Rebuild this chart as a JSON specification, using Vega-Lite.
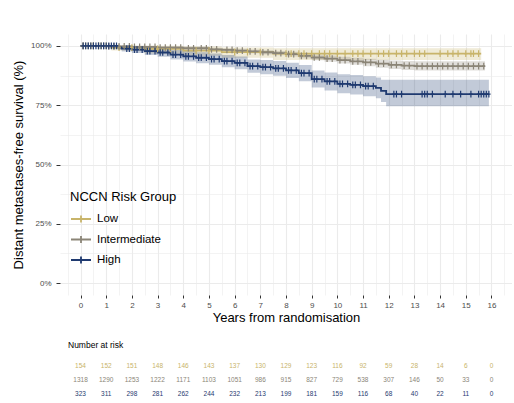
{
  "$schema": "https://vega.github.io/schema/vega-lite/v6.json",
  "background": "white",
  "padding": {"left": 12, "top": 34, "right": 0, "bottom": 0},
  "config": {
    "font": "Liberation Sans",
    "view": {"stroke": null},
    "axis": {"labelFont": "Liberation Sans", "titleFont": "Liberation Sans"}
  },
  "datasets": {
    "curves": [
      {"group": "Low", "time": 0, "surv": 1, "lower": 1, "upper": 1},
      {"group": "Low", "time": 1.2, "surv": 0.993, "lower": 0.98, "upper": 1},
      {"group": "Low", "time": 2.5, "surv": 0.987, "lower": 0.968, "upper": 1},
      {"group": "Low", "time": 4.0, "surv": 0.98, "lower": 0.958, "upper": 0.997},
      {"group": "Low", "time": 5.5, "surv": 0.974, "lower": 0.95, "upper": 0.993},
      {"group": "Low", "time": 7.5, "surv": 0.967, "lower": 0.94, "upper": 0.99},
      {"group": "Low", "time": 15.6, "surv": 0.967, "lower": 0.94, "upper": 0.99},
      {"group": "Intermediate", "time": 0, "surv": 1, "lower": 1, "upper": 1},
      {"group": "Intermediate", "time": 1, "surv": 0.998, "lower": 0.995, "upper": 1},
      {"group": "Intermediate", "time": 2, "surv": 0.996, "lower": 0.992, "upper": 1},
      {"group": "Intermediate", "time": 3, "surv": 0.993, "lower": 0.988, "upper": 0.998},
      {"group": "Intermediate", "time": 4, "surv": 0.99, "lower": 0.984, "upper": 0.996},
      {"group": "Intermediate", "time": 5, "surv": 0.985, "lower": 0.978, "upper": 0.992},
      {"group": "Intermediate", "time": 5.5, "surv": 0.983, "lower": 0.976, "upper": 0.99},
      {"group": "Intermediate", "time": 6, "surv": 0.98, "lower": 0.972, "upper": 0.988},
      {"group": "Intermediate", "time": 6.5, "surv": 0.977, "lower": 0.969, "upper": 0.985},
      {"group": "Intermediate", "time": 7, "surv": 0.973, "lower": 0.964, "upper": 0.982},
      {"group": "Intermediate", "time": 7.5, "surv": 0.969, "lower": 0.96, "upper": 0.978},
      {"group": "Intermediate", "time": 8, "surv": 0.965, "lower": 0.955, "upper": 0.975},
      {"group": "Intermediate", "time": 8.5, "surv": 0.958, "lower": 0.947, "upper": 0.969},
      {"group": "Intermediate", "time": 9, "surv": 0.951, "lower": 0.939, "upper": 0.963},
      {"group": "Intermediate", "time": 9.5, "surv": 0.946, "lower": 0.933, "upper": 0.959},
      {"group": "Intermediate", "time": 10, "surv": 0.94, "lower": 0.926, "upper": 0.954},
      {"group": "Intermediate", "time": 10.5, "surv": 0.935, "lower": 0.92, "upper": 0.95},
      {"group": "Intermediate", "time": 11, "surv": 0.93, "lower": 0.914, "upper": 0.946},
      {"group": "Intermediate", "time": 11.5, "surv": 0.925, "lower": 0.908, "upper": 0.942},
      {"group": "Intermediate", "time": 12, "surv": 0.92, "lower": 0.902, "upper": 0.938},
      {"group": "Intermediate", "time": 12.5, "surv": 0.917, "lower": 0.898, "upper": 0.936},
      {"group": "Intermediate", "time": 13, "surv": 0.915, "lower": 0.896, "upper": 0.935},
      {"group": "Intermediate", "time": 15.75, "surv": 0.915, "lower": 0.896, "upper": 0.935},
      {"group": "High", "time": 0, "surv": 1, "lower": 1, "upper": 1},
      {"group": "High", "time": 1.45, "surv": 0.994, "lower": 0.985, "upper": 1},
      {"group": "High", "time": 1.6, "surv": 0.988, "lower": 0.976, "upper": 1},
      {"group": "High", "time": 2, "surv": 0.984, "lower": 0.97, "upper": 0.998},
      {"group": "High", "time": 2.5, "surv": 0.978, "lower": 0.962, "upper": 0.994},
      {"group": "High", "time": 3, "surv": 0.972, "lower": 0.954, "upper": 0.99},
      {"group": "High", "time": 3.5, "surv": 0.963, "lower": 0.943, "upper": 0.983},
      {"group": "High", "time": 4, "surv": 0.956, "lower": 0.934, "upper": 0.978},
      {"group": "High", "time": 4.5, "surv": 0.95, "lower": 0.927, "upper": 0.973},
      {"group": "High", "time": 5, "surv": 0.944, "lower": 0.92, "upper": 0.968},
      {"group": "High", "time": 5.5, "surv": 0.936, "lower": 0.91, "upper": 0.962},
      {"group": "High", "time": 6, "surv": 0.928, "lower": 0.901, "upper": 0.955},
      {"group": "High", "time": 6.5, "surv": 0.915, "lower": 0.887, "upper": 0.943},
      {"group": "High", "time": 7, "surv": 0.91, "lower": 0.88, "upper": 0.94},
      {"group": "High", "time": 7.5, "surv": 0.905, "lower": 0.874, "upper": 0.936},
      {"group": "High", "time": 8, "surv": 0.897, "lower": 0.865, "upper": 0.929},
      {"group": "High", "time": 8.5, "surv": 0.885, "lower": 0.851, "upper": 0.919},
      {"group": "High", "time": 9, "surv": 0.86, "lower": 0.824, "upper": 0.896},
      {"group": "High", "time": 9.5, "surv": 0.85, "lower": 0.812, "upper": 0.888},
      {"group": "High", "time": 10, "surv": 0.84, "lower": 0.8, "upper": 0.88},
      {"group": "High", "time": 10.5, "surv": 0.836, "lower": 0.795, "upper": 0.877},
      {"group": "High", "time": 11, "surv": 0.83, "lower": 0.788, "upper": 0.872},
      {"group": "High", "time": 11.5, "surv": 0.823, "lower": 0.779, "upper": 0.867},
      {"group": "High", "time": 11.7, "surv": 0.81, "lower": 0.763, "upper": 0.857},
      {"group": "High", "time": 11.9, "surv": 0.797, "lower": 0.745, "upper": 0.857},
      {"group": "High", "time": 15.9, "surv": 0.797, "lower": 0.745, "upper": 0.857}
    ],
    "censor": [
      {"group": "Low", "time": 0.1, "surv": 1}, {"group": "Low", "time": 0.2, "surv": 1}, {"group": "Low", "time": 0.4, "surv": 1},
      {"group": "Low", "time": 0.5, "surv": 1}, {"group": "Low", "time": 0.7, "surv": 1}, {"group": "Low", "time": 0.8, "surv": 1},
      {"group": "Low", "time": 1.0, "surv": 1},
      {"group": "Low", "time": 1.5, "surv": 0.993}, {"group": "Low", "time": 2.0, "surv": 0.993},
      {"group": "Low", "time": 3.0, "surv": 0.987}, {"group": "Low", "time": 3.5, "surv": 0.987},
      {"group": "Low", "time": 4.5, "surv": 0.98}, {"group": "Low", "time": 5.0, "surv": 0.98},
      {"group": "Low", "time": 6.0, "surv": 0.974}, {"group": "Low", "time": 6.5, "surv": 0.974}, {"group": "Low", "time": 7.0, "surv": 0.974},
      {"group": "Low", "time": 8.0, "surv": 0.967}, {"group": "Low", "time": 8.2, "surv": 0.967}, {"group": "Low", "time": 8.5, "surv": 0.967},
      {"group": "Low", "time": 8.7, "surv": 0.967}, {"group": "Low", "time": 9.0, "surv": 0.967},
      {"group": "Low", "time": 9.3, "surv": 0.967}, {"group": "Low", "time": 9.5, "surv": 0.967}, {"group": "Low", "time": 9.7, "surv": 0.967},
      {"group": "Low", "time": 10.0, "surv": 0.967},
      {"group": "Low", "time": 10.3, "surv": 0.967}, {"group": "Low", "time": 10.6, "surv": 0.967}, {"group": "Low", "time": 10.8, "surv": 0.967},
      {"group": "Low", "time": 11.0, "surv": 0.967},
      {"group": "Low", "time": 11.3, "surv": 0.967}, {"group": "Low", "time": 11.6, "surv": 0.967}, {"group": "Low", "time": 11.8, "surv": 0.967},
      {"group": "Low", "time": 12.0, "surv": 0.967},
      {"group": "Low", "time": 12.3, "surv": 0.967}, {"group": "Low", "time": 12.5, "surv": 0.967}, {"group": "Low", "time": 12.7, "surv": 0.967},
      {"group": "Low", "time": 13.0, "surv": 0.967}, {"group": "Low", "time": 13.2, "surv": 0.967},
      {"group": "Low", "time": 13.4, "surv": 0.967}, {"group": "Low", "time": 14.0, "surv": 0.967}, {"group": "Low", "time": 14.3, "surv": 0.967},
      {"group": "Low", "time": 14.5, "surv": 0.967},
      {"group": "Low", "time": 14.7, "surv": 0.967}, {"group": "Low", "time": 15.0, "surv": 0.967}, {"group": "Low", "time": 15.2, "surv": 0.967},
      {"group": "Low", "time": 15.3, "surv": 0.967}, {"group": "Low", "time": 15.5, "surv": 0.967},
      {"group": "Intermediate", "time": 0.1, "surv": 1}, {"group": "Intermediate", "time": 0.3, "surv": 1}, {"group": "Intermediate", "time": 0.5, "surv": 1},
      {"group": "Intermediate", "time": 0.7, "surv": 1}, {"group": "Intermediate", "time": 0.9, "surv": 1},
      {"group": "Intermediate", "time": 1.1, "surv": 0.998}, {"group": "Intermediate", "time": 1.3, "surv": 0.998}, {"group": "Intermediate", "time": 1.5, "surv": 0.998},
      {"group": "Intermediate", "time": 1.7, "surv": 0.998}, {"group": "Intermediate", "time": 1.9, "surv": 0.998},
      {"group": "Intermediate", "time": 2.1, "surv": 0.996}, {"group": "Intermediate", "time": 2.3, "surv": 0.996}, {"group": "Intermediate", "time": 2.5, "surv": 0.996},
      {"group": "Intermediate", "time": 2.7, "surv": 0.996}, {"group": "Intermediate", "time": 2.9, "surv": 0.996},
      {"group": "Intermediate", "time": 3.1, "surv": 0.993}, {"group": "Intermediate", "time": 3.3, "surv": 0.993}, {"group": "Intermediate", "time": 3.5, "surv": 0.993},
      {"group": "Intermediate", "time": 3.7, "surv": 0.993}, {"group": "Intermediate", "time": 3.9, "surv": 0.993},
      {"group": "Intermediate", "time": 4.2, "surv": 0.99}, {"group": "Intermediate", "time": 4.4, "surv": 0.99}, {"group": "Intermediate", "time": 4.7, "surv": 0.99},
      {"group": "Intermediate", "time": 4.9, "surv": 0.99},
      {"group": "Intermediate", "time": 5.1, "surv": 0.985}, {"group": "Intermediate", "time": 5.3, "surv": 0.985},
      {"group": "Intermediate", "time": 5.7, "surv": 0.983}, {"group": "Intermediate", "time": 5.9, "surv": 0.983},
      {"group": "Intermediate", "time": 6.1, "surv": 0.98}, {"group": "Intermediate", "time": 6.3, "surv": 0.98},
      {"group": "Intermediate", "time": 6.6, "surv": 0.977}, {"group": "Intermediate", "time": 6.8, "surv": 0.977},
      {"group": "Intermediate", "time": 7.1, "surv": 0.973}, {"group": "Intermediate", "time": 7.3, "surv": 0.973},
      {"group": "Intermediate", "time": 7.6, "surv": 0.969}, {"group": "Intermediate", "time": 7.8, "surv": 0.969},
      {"group": "Intermediate", "time": 8.1, "surv": 0.965}, {"group": "Intermediate", "time": 8.3, "surv": 0.965},
      {"group": "Intermediate", "time": 8.6, "surv": 0.958}, {"group": "Intermediate", "time": 8.8, "surv": 0.958},
      {"group": "Intermediate", "time": 9.1, "surv": 0.951}, {"group": "Intermediate", "time": 9.3, "surv": 0.951},
      {"group": "Intermediate", "time": 9.6, "surv": 0.946}, {"group": "Intermediate", "time": 9.8, "surv": 0.946},
      {"group": "Intermediate", "time": 10.1, "surv": 0.94}, {"group": "Intermediate", "time": 10.3, "surv": 0.94},
      {"group": "Intermediate", "time": 10.6, "surv": 0.935}, {"group": "Intermediate", "time": 10.8, "surv": 0.935},
      {"group": "Intermediate", "time": 11.1, "surv": 0.93}, {"group": "Intermediate", "time": 11.3, "surv": 0.93},
      {"group": "Intermediate", "time": 11.6, "surv": 0.925}, {"group": "Intermediate", "time": 11.8, "surv": 0.925},
      {"group": "Intermediate", "time": 12.1, "surv": 0.92}, {"group": "Intermediate", "time": 12.3, "surv": 0.92},
      {"group": "Intermediate", "time": 12.6, "surv": 0.917}, {"group": "Intermediate", "time": 12.8, "surv": 0.917},
      {"group": "Intermediate", "time": 13.1, "surv": 0.915}, {"group": "Intermediate", "time": 13.3, "surv": 0.915},
      {"group": "Intermediate", "time": 13.5, "surv": 0.915}, {"group": "Intermediate", "time": 13.7, "surv": 0.915},
      {"group": "Intermediate", "time": 13.9, "surv": 0.915}, {"group": "Intermediate", "time": 14.1, "surv": 0.915},
      {"group": "Intermediate", "time": 14.3, "surv": 0.915}, {"group": "Intermediate", "time": 14.5, "surv": 0.915},
      {"group": "Intermediate", "time": 14.7, "surv": 0.915}, {"group": "Intermediate", "time": 14.9, "surv": 0.915},
      {"group": "Intermediate", "time": 15.1, "surv": 0.915}, {"group": "Intermediate", "time": 15.3, "surv": 0.915},
      {"group": "Intermediate", "time": 15.5, "surv": 0.915}, {"group": "Intermediate", "time": 15.7, "surv": 0.915},
      {"group": "High", "time": 0.1, "surv": 1}, {"group": "High", "time": 0.2, "surv": 1}, {"group": "High", "time": 0.3, "surv": 1},
      {"group": "High", "time": 0.4, "surv": 1}, {"group": "High", "time": 0.5, "surv": 1}, {"group": "High", "time": 0.6, "surv": 1},
      {"group": "High", "time": 0.7, "surv": 1}, {"group": "High", "time": 0.8, "surv": 1}, {"group": "High", "time": 0.9, "surv": 1},
      {"group": "High", "time": 1.0, "surv": 1}, {"group": "High", "time": 1.1, "surv": 1}, {"group": "High", "time": 1.2, "surv": 1},
      {"group": "High", "time": 1.3, "surv": 1}, {"group": "High", "time": 1.4, "surv": 1},
      {"group": "High", "time": 1.8, "surv": 0.988}, {"group": "High", "time": 1.9, "surv": 0.988},
      {"group": "High", "time": 2.1, "surv": 0.984}, {"group": "High", "time": 2.2, "surv": 0.984}, {"group": "High", "time": 2.4, "surv": 0.984},
      {"group": "High", "time": 2.6, "surv": 0.978}, {"group": "High", "time": 2.7, "surv": 0.978}, {"group": "High", "time": 2.9, "surv": 0.978},
      {"group": "High", "time": 3.1, "surv": 0.972}, {"group": "High", "time": 3.2, "surv": 0.972}, {"group": "High", "time": 3.4, "surv": 0.972},
      {"group": "High", "time": 3.6, "surv": 0.963}, {"group": "High", "time": 3.7, "surv": 0.963}, {"group": "High", "time": 3.9, "surv": 0.963},
      {"group": "High", "time": 4.1, "surv": 0.956}, {"group": "High", "time": 4.2, "surv": 0.956}, {"group": "High", "time": 4.4, "surv": 0.956},
      {"group": "High", "time": 4.6, "surv": 0.95}, {"group": "High", "time": 4.7, "surv": 0.95}, {"group": "High", "time": 4.9, "surv": 0.95},
      {"group": "High", "time": 5.1, "surv": 0.944}, {"group": "High", "time": 5.2, "surv": 0.944}, {"group": "High", "time": 5.4, "surv": 0.944},
      {"group": "High", "time": 5.6, "surv": 0.936}, {"group": "High", "time": 5.7, "surv": 0.936}, {"group": "High", "time": 5.9, "surv": 0.936},
      {"group": "High", "time": 6.1, "surv": 0.928}, {"group": "High", "time": 6.2, "surv": 0.928}, {"group": "High", "time": 6.4, "surv": 0.928},
      {"group": "High", "time": 6.6, "surv": 0.915}, {"group": "High", "time": 6.7, "surv": 0.915}, {"group": "High", "time": 6.9, "surv": 0.915},
      {"group": "High", "time": 7.1, "surv": 0.91}, {"group": "High", "time": 7.2, "surv": 0.91}, {"group": "High", "time": 7.4, "surv": 0.91},
      {"group": "High", "time": 7.6, "surv": 0.905}, {"group": "High", "time": 7.7, "surv": 0.905}, {"group": "High", "time": 7.9, "surv": 0.905},
      {"group": "High", "time": 8.1, "surv": 0.897}, {"group": "High", "time": 8.2, "surv": 0.897}, {"group": "High", "time": 8.4, "surv": 0.897},
      {"group": "High", "time": 8.6, "surv": 0.885}, {"group": "High", "time": 8.7, "surv": 0.885}, {"group": "High", "time": 8.9, "surv": 0.885},
      {"group": "High", "time": 9.1, "surv": 0.86}, {"group": "High", "time": 9.2, "surv": 0.86}, {"group": "High", "time": 9.4, "surv": 0.86},
      {"group": "High", "time": 9.6, "surv": 0.85}, {"group": "High", "time": 9.7, "surv": 0.85}, {"group": "High", "time": 9.9, "surv": 0.85},
      {"group": "High", "time": 10.1, "surv": 0.84}, {"group": "High", "time": 10.2, "surv": 0.84}, {"group": "High", "time": 10.4, "surv": 0.84},
      {"group": "High", "time": 10.6, "surv": 0.836}, {"group": "High", "time": 10.7, "surv": 0.836}, {"group": "High", "time": 10.9, "surv": 0.836},
      {"group": "High", "time": 11.1, "surv": 0.83}, {"group": "High", "time": 11.2, "surv": 0.83}, {"group": "High", "time": 11.4, "surv": 0.83},
      {"group": "High", "time": 12.2, "surv": 0.797}, {"group": "High", "time": 12.3, "surv": 0.797}, {"group": "High", "time": 12.5, "surv": 0.797},
      {"group": "High", "time": 13.3, "surv": 0.797}, {"group": "High", "time": 13.4, "surv": 0.797},
      {"group": "High", "time": 13.5, "surv": 0.797}, {"group": "High", "time": 13.7, "surv": 0.797}, {"group": "High", "time": 14.2, "surv": 0.797},
      {"group": "High", "time": 14.5, "surv": 0.797}, {"group": "High", "time": 14.8, "surv": 0.797}, {"group": "High", "time": 15.2, "surv": 0.797},
      {"group": "High", "time": 15.5, "surv": 0.797}, {"group": "High", "time": 15.6, "surv": 0.797}, {"group": "High", "time": 15.7, "surv": 0.797},
      {"group": "High", "time": 15.8, "surv": 0.797}, {"group": "High", "time": 15.9, "surv": 0.797}
    ],
    "risk": [
      {"group": "Low", "time": 0, "n": 154}, {"group": "Low", "time": 1, "n": 152}, {"group": "Low", "time": 2, "n": 151},
      {"group": "Low", "time": 3, "n": 148}, {"group": "Low", "time": 4, "n": 146}, {"group": "Low", "time": 5, "n": 143},
      {"group": "Low", "time": 6, "n": 137}, {"group": "Low", "time": 7, "n": 130}, {"group": "Low", "time": 8, "n": 129},
      {"group": "Low", "time": 9, "n": 123}, {"group": "Low", "time": 10, "n": 116}, {"group": "Low", "time": 11, "n": 92},
      {"group": "Low", "time": 12, "n": 59}, {"group": "Low", "time": 13, "n": 28}, {"group": "Low", "time": 14, "n": 14},
      {"group": "Low", "time": 15, "n": 6}, {"group": "Low", "time": 16, "n": 0},
      {"group": "Intermediate", "time": 0, "n": 1318}, {"group": "Intermediate", "time": 1, "n": 1290}, {"group": "Intermediate", "time": 2, "n": 1253},
      {"group": "Intermediate", "time": 3, "n": 1222}, {"group": "Intermediate", "time": 4, "n": 1171}, {"group": "Intermediate", "time": 5, "n": 1103},
      {"group": "Intermediate", "time": 6, "n": 1051}, {"group": "Intermediate", "time": 7, "n": 986}, {"group": "Intermediate", "time": 8, "n": 915},
      {"group": "Intermediate", "time": 9, "n": 827}, {"group": "Intermediate", "time": 10, "n": 729}, {"group": "Intermediate", "time": 11, "n": 538},
      {"group": "Intermediate", "time": 12, "n": 307}, {"group": "Intermediate", "time": 13, "n": 146}, {"group": "Intermediate", "time": 14, "n": 50},
      {"group": "Intermediate", "time": 15, "n": 33}, {"group": "Intermediate", "time": 16, "n": 0},
      {"group": "High", "time": 0, "n": 323}, {"group": "High", "time": 1, "n": 311}, {"group": "High", "time": 2, "n": 298},
      {"group": "High", "time": 3, "n": 281}, {"group": "High", "time": 4, "n": 262}, {"group": "High", "time": 5, "n": 244},
      {"group": "High", "time": 6, "n": 232}, {"group": "High", "time": 7, "n": 213}, {"group": "High", "time": 8, "n": 199},
      {"group": "High", "time": 9, "n": 181}, {"group": "High", "time": 10, "n": 159}, {"group": "High", "time": 11, "n": 116},
      {"group": "High", "time": 12, "n": 68}, {"group": "High", "time": 13, "n": 40}, {"group": "High", "time": 14, "n": 22},
      {"group": "High", "time": 15, "n": 11}, {"group": "High", "time": 16, "n": 0}
    ],
    "note": [{"time": 16.15, "surv": 0.6, "label": "Log-rank p < 0.0001"}]
  },
  "vconcat": [
    {
      "width": 452,
      "height": 261,
      "layer": [
        {
          "data": {"name": "curves"},
          "mark": {"type": "area", "interpolate": "step-after", "opacity": 0.27},
          "encoding": {
            "x": {"field": "time", "type": "quantitative"},
            "y": {"field": "lower", "type": "quantitative"},
            "y2": {"field": "upper"},
            "color": {"field": "group", "type": "nominal"}
          }
        },
        {
          "data": {"name": "curves"},
          "mark": {"type": "line", "interpolate": "step-after", "strokeWidth": 1.8},
          "encoding": {
            "x": {"field": "time", "type": "quantitative"},
            "y": {"field": "surv", "type": "quantitative"},
            "color": {"field": "group", "type": "nominal"}
          }
        },
        {
          "data": {"name": "censor"},
          "mark": {"type": "point", "shape": "M-0.5,0H0.5M0,-1V1", "filled": false, "strokeWidth": 1.2, "size": 45, "opacity": 1},
          "encoding": {
            "x": {"field": "time", "type": "quantitative"},
            "y": {"field": "surv", "type": "quantitative"},
            "color": {"field": "group", "type": "nominal"}
          }
        },
        {
          "data": {"name": "note"},
          "mark": {"type": "text", "align": "right", "baseline": "middle", "fontSize": 9, "color": "#1a1a1a"},
          "encoding": {
            "x": {"field": "time", "type": "quantitative"},
            "y": {"field": "surv", "type": "quantitative"},
            "text": {"field": "label"}
          }
        }
      ],
      "encoding": {
        "x": {
          "field": "time", "type": "quantitative",
          "scale": {"domain": [-0.8, 16.8], "nice": false, "zero": false},
          "axis": {
            "title": "Years from randomisation",
            "values": [-0.5,0,0.5,1,1.5,2,2.5,3,3.5,4,4.5,5,5.5,6,6.5,7,7.5,8,8.5,9,9.5,10,10.5,11,11.5,12,12.5,13,13.5,14,14.5,15,15.5,16,16.5],
            "labelExpr": "datum.value % 1 === 0 ? format(datum.value, 'd') : ''",
            "domain": false,
            "grid": true,
            "gridColor": "#EBEBEB",
            "gridWidth": {"condition": {"test": "datum.value % 1 === 0", "value": 1.1}, "value": 0.6},
            "tickColor": "#333333",
            "tickOpacity": {"condition": {"test": "datum.value % 1 === 0", "value": 1}, "value": 0},
            "tickSize": 3,
            "labelPadding": 3,
            "labelFontSize": 8,
            "labelColor": "#4D4D4D",
            "titleFontSize": 13,
            "titleFontWeight": "normal",
            "titleColor": "#000000",
            "titlePadding": 2
          }
        },
        "y": {
          "type": "quantitative",
          "scale": {"domain": [-0.05, 1.05], "nice": false, "zero": false},
          "axis": {
            "title": "Distant metastases-free survival (%)",
            "values": [0, 0.125, 0.25, 0.375, 0.5, 0.625, 0.75, 0.875, 1],
            "labelExpr": "(datum.value * 4) % 1 === 0 ? format(datum.value, '.0%') : ''",
            "domain": false,
            "grid": true,
            "gridColor": "#EBEBEB",
            "gridWidth": {"condition": {"test": "(datum.value * 4) % 1 === 0", "value": 1.1}, "value": 0.6},
            "tickColor": "#333333",
            "tickOpacity": {"condition": {"test": "(datum.value * 4) % 1 === 0", "value": 1}, "value": 0},
            "tickSize": 4,
            "labelPadding": 5,
            "labelFontSize": 8,
            "labelColor": "#4D4D4D",
            "titleFontSize": 13,
            "titleFontWeight": "normal",
            "titleColor": "#000000",
            "titlePadding": 5
          }
        },
        "color": {
          "field": "group", "type": "nominal",
          "scale": {"domain": ["Low", "Intermediate", "High"], "range": ["#C8B46A", "#8B8577", "#1F3A70"]},
          "legend": {
            "title": "NCCN Risk Group",
            "orient": "none",
            "legendX": 10,
            "legendY": 157,
            "titleFontSize": 13,
            "titleFontWeight": "normal",
            "titleColor": "#000000",
            "titlePadding": 4,
            "labelFontSize": 11.5,
            "labelColor": "#000000",
            "labelOffset": 5,
            "symbolType": "M-1,0H1M0,-0.35V0.35",
            "symbolSize": 400,
            "symbolStrokeWidth": 1.8,
            "symbolOpacity": 1,
            "rowPadding": 1.5
          }
        }
      }
    },
    {
      "width": 452,
      "height": 42,
      "title": {"text": "Number at risk", "anchor": "start", "dx": 8, "fontSize": 8.5, "fontWeight": "normal", "color": "#000000", "offset": 10},
      "data": {"name": "risk"},
      "mark": {"type": "text", "fontSize": 6.5, "baseline": "middle"},
      "encoding": {
        "x": {"field": "time", "type": "quantitative", "scale": {"domain": [-0.8, 16.8], "nice": false, "zero": false}, "axis": null},
        "y": {"field": "group", "type": "nominal", "scale": {"type": "point", "padding": 0.5, "domain": ["Low", "Intermediate", "High"]}, "axis": null},
        "text": {"field": "n", "type": "quantitative"},
        "color": {
          "field": "group", "type": "nominal",
          "scale": {"domain": ["Low", "Intermediate", "High"], "range": ["#C8B46A", "#8B8577", "#1F3A70"]},
          "legend": null
        }
      }
    }
  ],
  "spacing": 16
}
